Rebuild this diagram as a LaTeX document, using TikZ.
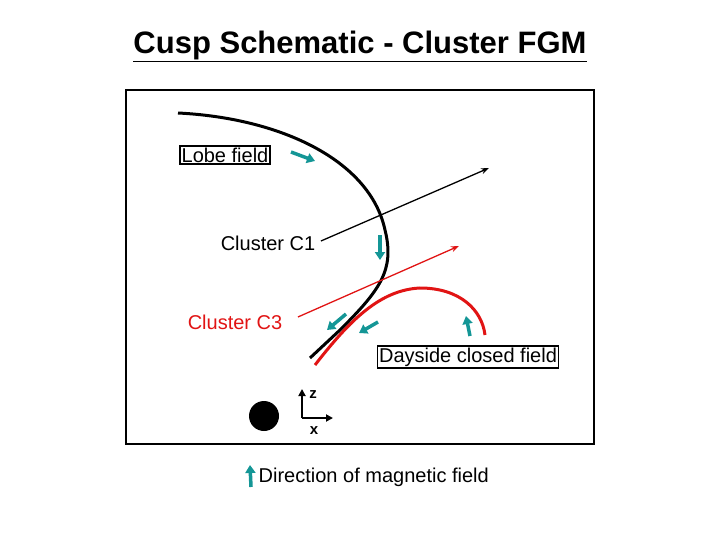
\documentclass[tikz,border=0pt]{standalone}
\usepackage{fontspec}
\setmainfont{Liberation Sans}
\usetikzlibrary{arrows.meta}
\definecolor{teal1}{RGB}{20,150,150}
\definecolor{red1}{RGB}{225,20,20}
\begin{document}
\begin{tikzpicture}[x=1pt,y=-1pt,
  lbl/.style={font=\fontsize{20}{22}\selectfont,inner sep=1.5pt},
  box/.style={lbl,draw,line width=1.5pt},
  fld/.style={teal1,line width=3.5pt,-{Triangle[length=8pt,width=10pt]}},
  path/.style={line width=1.3pt,-{Stealth[length=8pt]}}]
\useasboundingbox (0,0) rectangle (720,540);
\node[font=\bfseries\fontsize{31}{34}\selectfont] (title) at (360,46) {\underline{Cusp Schematic - Cluster FGM}};
\draw[line width=2.5pt] (126,90) rectangle (594,444);
\draw[line width=3pt] (178,113) .. controls (280,118) and (370,160) .. (385,230)
  .. controls (395,270) and (380,290) .. (340,330) -- (310,358);
\draw[red1,line width=3pt] (315,365) .. controls (350,320) and (380,290) .. (420,288)
  .. controls (460,288) and (482,310) .. (485,335);
\node[lbl] (c1) at (268,243) {Cluster C1};
\node[lbl,text=red1] (c3) at (235,322) {Cluster C3};
\coordinate (e1) at (489,168);
\coordinate (e3) at (459,246);
\draw[path] (c1.east) ++(4,-2) -- (e1);
\draw[path,red1] (c3.east) ++(14,-5) -- (e3);
\node[box] (lobe) at (225,155) {Lobe field};
\node[box] (day) at (468,357) {Dayside closed field};
\draw[fld] (291,152) -- (315,161);
\draw[fld] (380,235) -- (380,260);
\draw[fld] (346,314) -- (327,330);
\draw[fld] (378,322) -- (359,333);
\draw[fld] (470,336) -- (466,316);
\draw[fld] (251,487) -- (250,465);
\fill (264,416) circle (15);
\coordinate (o) at (302,418);
\draw[line width=2.5pt,-{Triangle[length=7pt,width=7pt]}] (o) -- (302,389);
\draw[line width=2.5pt,-{Triangle[length=7pt,width=7pt]}] (o) -- (333,418);
\node[font=\bfseries\fontsize{15}{16}\selectfont] (z) at (313,395) {z};
\node[font=\bfseries\fontsize{15}{16}\selectfont] (x) at (314,431) {x};
\node[lbl,anchor=west] (leg) at (257,477) {Direction of magnetic field};
\end{tikzpicture}
\end{document}
